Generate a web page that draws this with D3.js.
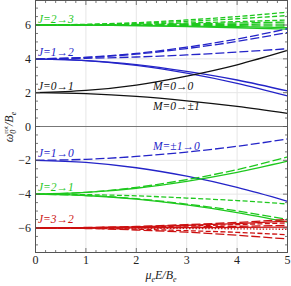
<!DOCTYPE html>
<html>
<head>
<meta charset="utf-8">
<script src="https://cdn.jsdelivr.net/npm/d3@7"></script>
<style>
  body { margin: 0; background: #fff; }
  text { font-family: "Liberation Serif", "DejaVu Serif", serif; }
</style>
</head>
<body>
<script>
const width = 291;
const height = 286;

// field strength values where the curves were read
const xVals = [0, 1, 2, 3, 4, 5];

// J=0->1 (black)
const j01Vals = [
  [2, 2.13, 2.45, 2.98, 3.65, 4.5],
  [2, 1.94, 1.78, 1.52, 1.19, 0.78]
];
const j01M = [0, 0];

// J=1->2 (blue)
const j12Vals = [
  [4, 4.09, 4.32, 4.69, 5.17, 5.78],
  [4, 4.08, 4.28, 4.61, 5.03, 5.56],
  [4, 4.03, 4.11, 4.23, 4.4, 4.6],
  [4, 3.9, 3.66, 3.26, 2.75, 2.1],
  [4, 3.89, 3.61, 3.15, 2.55, 1.81]
];
const j12M = [1, 1, 1, 0, 0];

// J=2->3 (green)
const j23Vals = [
  [6, 6.04, 6.14, 6.3, 6.5, 6.76],
  [6, 6.03, 6.1, 6.22, 6.37, 6.56],
  [6, 6.02, 6.05, 6.12, 6.2, 6.3],
  [6, 6.01, 6.03, 6.07, 6.12, 6.18],
  [6, 6.0, 6.01, 6.02, 6.04, 6.06],
  [6, 6.0, 5.99, 5.98, 5.96, 5.94],
  [6, 5.99, 5.97, 5.94, 5.9, 5.84],
  [6, 5.99, 5.96, 5.91, 5.84, 5.76]
];
const j23M = [2, 2, 2, 1, 1, 1, 0, 0];

// J=1->0 (blue)
const j10Vals = [
  [-2, -1.94, -1.77, -1.51, -1.17, -0.74],
  [-2, -2.12, -2.44, -2.94, -3.6, -4.42]
];
const j10M = [1, 0];

// J=2->1 (green)
const j21Vals = [
  [-4, -3.89, -3.6, -3.14, -2.55, -1.8],
  [-4, -3.9, -3.65, -3.24, -2.71, -2.05],
  [-4, -4.03, -4.1, -4.23, -4.38, -4.58],
  [-4, -4.08, -4.27, -4.59, -4.99, -5.5],
  [-4, -4.08, -4.3, -4.64, -5.09, -5.65]
];
const j21M = [1, 0, 2, 1, 0];

// J=3->2 (red)
const j32Vals = [
  [-6, -5.97, -5.91, -5.8, -5.67, -5.5],
  [-6, -5.98, -5.93, -5.84, -5.74, -5.6],
  [-6, -5.98, -5.95, -5.88, -5.8, -5.7],
  [-6, -5.99, -5.97, -5.94, -5.9, -5.85],
  [-6, -6.0, -5.99, -5.98, -5.97, -5.95],
  [-6, -6.0, -6.01, -6.03, -6.05, -6.08],
  [-6, -6.02, -6.07, -6.16, -6.26, -6.4],
  [-6, -6.03, -6.12, -6.25, -6.43, -6.65]
];
const j32M = [1, 0, 2, 1, 0, 3, 2, 1];

const xTicks = [0, 1, 2, 3, 4, 5];
const yTicks = [-6, -4, -2, 0, 2, 4, 6];
const gridX = [1, 2, 3, 4];
const gridY = [-6, -4, -2, 2, 4, 6];

const groups = [
  { vals: j23Vals, m: j23M, color: "#1ec81e" },
  { vals: j12Vals, m: j12M, color: "#2424c8" },
  { vals: j01Vals, m: j01M, color: "#111111" },
  { vals: j10Vals, m: j10M, color: "#2424c8" },
  { vals: j21Vals, m: j21M, color: "#1ec81e" },
  { vals: j32Vals, m: j32M, color: "#cc1010" }
];

const dashFor = ["none", "9,3", "5,2.4", "1.4,1.8"];

const pLeft = 35.5, pRight = 287.5, pTop = 0.5, pBottom = 252.5;

const xScale = d3.scaleLinear().domain([0, 5]).range([pLeft, pRight]);
const yScale = d3.scaleLinear().domain([-7.45, 7.45]).range([pBottom, pTop]);

const svg = d3.select("body").append("svg")
  .attr("width", width)
  .attr("height", height);

svg.append("defs").append("clipPath").attr("id", "plot")
  .append("rect")
    .attr("x", pLeft).attr("y", pTop)
    .attr("width", pRight - pLeft).attr("height", pBottom - pTop);

// grid
svg.selectAll(".gx").data(gridX).enter().append("line")
  .attr("x1", d => xScale(d)).attr("x2", d => xScale(d))
  .attr("y1", pTop).attr("y2", pBottom)
  .attr("stroke", "#e6e6e6").attr("stroke-width", 1);
svg.selectAll(".gy").data(gridY).enter().append("line")
  .attr("y1", d => yScale(d)).attr("y2", d => yScale(d))
  .attr("x1", pLeft).attr("x2", pRight)
  .attr("stroke", "#e6e6e6").attr("stroke-width", 1);

// zero line
svg.append("line")
  .attr("x1", pLeft).attr("x2", pRight)
  .attr("y1", yScale(0)).attr("y2", yScale(0))
  .attr("stroke", "#777").attr("stroke-width", 1);

// curves
const line = d3.line()
  .x((d, i) => xScale(xVals[i]))
  .y(d => yScale(d))
  .curve(d3.curveMonotoneX);

const curves = svg.append("g").attr("clip-path", "url(#plot)");
groups.forEach(g => {
  g.vals.forEach((v, i) => {
    curves.append("path")
      .attr("d", line(v))
      .attr("fill", "none")
      .attr("stroke", g.color)
      .attr("stroke-width", 1.3)
      .attr("stroke-dasharray", dashFor[g.m[i]]);
  });
});

// frame
svg.append("rect")
  .attr("x", pLeft).attr("y", pTop)
  .attr("width", pRight - pLeft).attr("height", pBottom - pTop)
  .attr("fill", "none").attr("stroke", "#555").attr("stroke-width", 1);

// ticks, major + minor, on all four sides
const xMinor = d3.range(0, 5.001, 0.2);
const yMinor = d3.range(-7, 7.001, 0.5);
const tickColor = "#555";

xMinor.forEach(v => {
  const major = Math.abs(v - Math.round(v)) < 1e-6;
  const len = major ? 4.5 : 2.5;
  const x = xScale(v);
  svg.append("line").attr("x1", x).attr("x2", x).attr("y1", pBottom).attr("y2", pBottom - len)
    .attr("stroke", tickColor).attr("stroke-width", 0.8);
  svg.append("line").attr("x1", x).attr("x2", x).attr("y1", pTop).attr("y2", pTop + len)
    .attr("stroke", tickColor).attr("stroke-width", 0.8);
});
yMinor.forEach(v => {
  const major = Math.abs(v / 2 - Math.round(v / 2)) < 1e-6;
  const len = major ? 4.5 : 2.5;
  const y = yScale(v);
  svg.append("line").attr("x1", pLeft).attr("x2", pLeft + len).attr("y1", y).attr("y2", y)
    .attr("stroke", tickColor).attr("stroke-width", 0.8);
  svg.append("line").attr("x1", pRight).attr("x2", pRight - len).attr("y1", y).attr("y2", y)
    .attr("stroke", tickColor).attr("stroke-width", 0.8);
});

// tick labels
svg.selectAll(".xl").data(xTicks).enter().append("text")
  .attr("x", d => xScale(d)).attr("y", 264)
  .attr("text-anchor", "middle").attr("font-size", 12).attr("fill", "#222")
  .text(d => d);
svg.selectAll(".yl").data(yTicks).enter().append("text")
  .attr("x", 31).attr("y", d => yScale(d)).attr("dy", "0.34em")
  .attr("text-anchor", "end").attr("font-size", 12).attr("fill", "#222")
  .text(d => d < 0 ? "\u2212" + Math.abs(d) : d);

// axis titles
const xt = svg.append("text").attr("x", 161).attr("y", 279)
  .attr("text-anchor", "middle").attr("font-size", 12).attr("fill", "#222")
  .attr("font-style", "italic");
xt.append("tspan").text("\u03bc");
xt.append("tspan").attr("font-size", 8).attr("dy", 2.5).text("e");
xt.append("tspan").attr("dy", -2.5).text("E/B");
xt.append("tspan").attr("font-size", 8).attr("dy", 2.5).text("e");

const yt = svg.append("text")
  .attr("transform", "translate(13,127) rotate(-90)")
  .attr("text-anchor", "middle").attr("font-size", 12).attr("fill", "#222")
  .attr("font-style", "italic");
yt.append("tspan").text("\u03c9");
yt.append("tspan").attr("font-size", 8).attr("dy", 2.5).text("0");
yt.append("tspan").attr("font-size", 7).attr("font-style", "normal").attr("dx", -4).attr("dy", -7.5).text("rot");
yt.append("tspan").attr("dy", 5).text("/B");
yt.append("tspan").attr("font-size", 8).attr("dy", 2.5).text("e");

// curve labels
const labels = [
  { t: "J=2\u21923", x: 38, y: 22.5, c: "#1ec81e" },
  { t: "J=1\u21922", x: 38, y: 56, c: "#2424c8" },
  { t: "J=0\u21921", x: 38, y: 90, c: "#111111" },
  { t: "M=0\u21920", x: 153, y: 90, c: "#111111" },
  { t: "M=0\u2192\u00b11", x: 153, y: 110, c: "#111111" },
  { t: "J=1\u21920", x: 38, y: 156.5, c: "#2424c8" },
  { t: "M=\u00b11\u21920", x: 153, y: 150, c: "#2424c8" },
  { t: "J=2\u21921", x: 38, y: 190.5, c: "#1ec81e" },
  { t: "J=3\u21922", x: 38, y: 223, c: "#cc1010" }
];
svg.selectAll(".lab").data(labels).enter().append("text")
  .attr("x", d => d.x).attr("y", d => d.y)
  .attr("font-size", 11.5).attr("font-style", "italic")
  .attr("fill", d => d.c)
  .text(d => d.t);
</script>
</body>
</html>
